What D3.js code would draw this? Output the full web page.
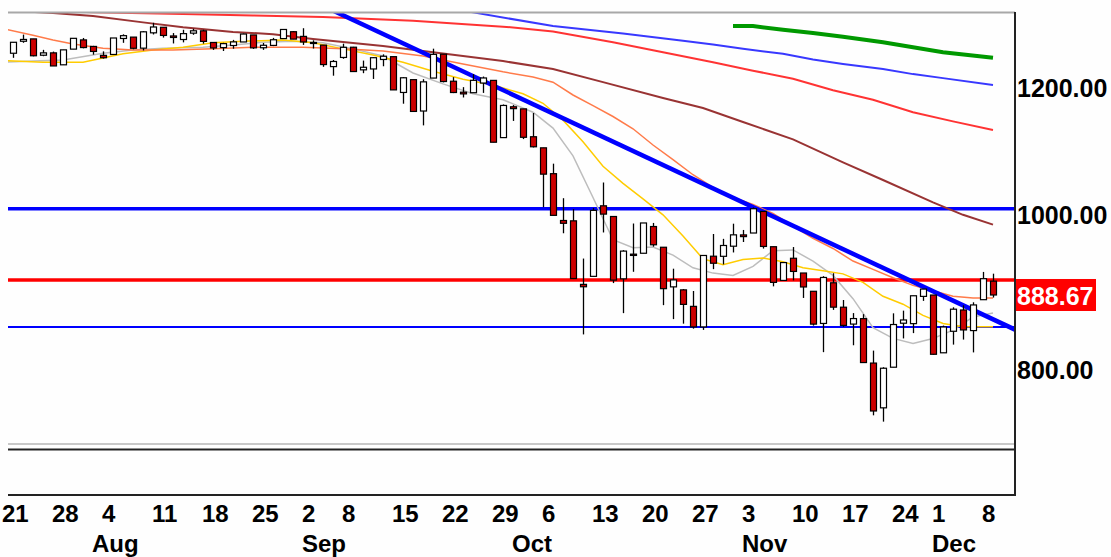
<!DOCTYPE html>
<html><head><meta charset="utf-8">
<script src="https://cdn.jsdelivr.net/npm/d3@7"></script>
<style>
html,body{margin:0;padding:0;background:#fefefe;}
svg{display:block;}
text{font-family:"Liberation Sans",Arial,sans-serif;font-weight:bold;}
</style></head><body>
<svg id="c" width="1111" height="557"></svg>
<script>
// ---- data ----
const dates = ["2008-07-21","2008-07-22","2008-07-23","2008-07-24","2008-07-25","2008-07-28","2008-07-29","2008-07-30","2008-07-31","2008-08-01",
"2008-08-04","2008-08-05","2008-08-06","2008-08-07","2008-08-08","2008-08-11","2008-08-12","2008-08-13","2008-08-14","2008-08-15",
"2008-08-18","2008-08-19","2008-08-20","2008-08-21","2008-08-22","2008-08-25","2008-08-26","2008-08-27","2008-08-28","2008-08-29",
"2008-09-02","2008-09-03","2008-09-04","2008-09-05","2008-09-08","2008-09-09","2008-09-10","2008-09-11","2008-09-12","2008-09-15",
"2008-09-16","2008-09-17","2008-09-18","2008-09-19","2008-09-22","2008-09-23","2008-09-24","2008-09-25","2008-09-26","2008-09-29",
"2008-09-30","2008-10-01","2008-10-02","2008-10-03","2008-10-06","2008-10-07","2008-10-08","2008-10-09","2008-10-10","2008-10-13",
"2008-10-14","2008-10-15","2008-10-16","2008-10-17","2008-10-20","2008-10-21","2008-10-22","2008-10-23","2008-10-24","2008-10-27",
"2008-10-28","2008-10-29","2008-10-30","2008-10-31","2008-11-03","2008-11-04","2008-11-05","2008-11-06","2008-11-07","2008-11-10",
"2008-11-11","2008-11-12","2008-11-13","2008-11-14","2008-11-17","2008-11-18","2008-11-19","2008-11-20","2008-11-21","2008-11-24",
"2008-11-25","2008-11-26","2008-11-28","2008-12-01","2008-12-02","2008-12-03","2008-12-04","2008-12-05","2008-12-08","2008-12-09"];
const opens = [1261.82,1257.08,1278.87,1283.22,1253.51,1257.76,1236.38,1264.52,1281.37,1269.42,
1253.27,1254.87,1283.99,1286.51,1266.29,1294.42,1304.79,1288.64,1282.11,1293.85,
1298.14,1276.65,1267.34,1271.07,1277.59,1290.47,1267.03,1271.29,1283.79,1296.49,
1287.83,1276.61,1271.80,1233.21,1249.50,1267.98,1227.50,1229.04,1245.88,1250.92,
1188.31,1210.34,1157.08,1213.11,1255.37,1207.61,1188.79,1187.87,1204.47,1209.07,
1113.78,1164.17,1160.64,1115.16,1097.56,1057.60,988.91,988.42,902.31,912.75,
1009.97,994.60,909.53,942.29,943.51,980.40,951.67,899.08,895.22,874.28,
848.92,939.51,939.38,953.11,968.67,971.31,1001.84,952.40,907.44,936.75,
917.15,893.39,853.13,904.36,873.23,852.34,859.03,805.98,755.84,801.20,
853.40,852.90,886.89,888.61,817.94,843.60,869.75,844.43,882.71,906.48];
const highs = [1267.74,1277.42,1291.17,1283.22,1263.23,1260.09,1263.20,1284.33,1284.93,1270.52,
1260.49,1284.88,1291.67,1286.51,1297.85,1313.15,1304.79,1294.03,1300.11,1302.05,
1300.22,1276.65,1276.01,1281.40,1293.09,1290.47,1275.65,1285.05,1300.68,1297.59,
1303.04,1280.60,1271.80,1244.94,1274.42,1268.66,1243.90,1249.98,1255.09,1250.92,
1214.84,1210.34,1211.14,1265.33,1255.37,1214.76,1197.41,1220.03,1215.77,1209.07,
1168.03,1167.03,1160.64,1153.82,1097.56,1072.91,1021.06,1005.25,936.36,1006.93,
1044.31,994.60,947.71,984.64,985.40,985.44,951.67,922.83,896.30,893.78,
940.51,969.97,963.23,984.38,975.57,1007.51,1001.84,952.40,931.46,951.95,
917.15,893.39,913.01,916.88,882.29,865.90,864.57,820.52,801.20,865.60,
868.94,887.68,896.25,888.61,850.54,873.12,875.60,879.42,918.57,916.26];
const lows = [1255.70,1248.83,1276.06,1251.48,1251.75,1234.37,1236.38,1264.52,1265.97,1254.54,
1247.45,1254.67,1276.00,1264.29,1262.11,1291.41,1285.64,1274.86,1276.84,1290.74,
1274.51,1263.11,1261.16,1265.22,1277.59,1264.87,1263.21,1270.03,1283.79,1282.74,
1272.20,1265.59,1232.83,1217.23,1247.12,1224.51,1221.60,1211.54,1233.81,1192.70,
1169.28,1155.88,1133.50,1213.11,1205.61,1187.22,1179.79,1187.87,1187.54,1106.42,
1113.78,1140.77,1111.43,1098.14,1007.97,996.23,970.97,909.19,839.80,912.75,
972.07,903.99,865.83,918.74,943.51,952.47,875.81,858.44,852.85,846.75,
845.27,922.26,928.50,944.59,958.82,971.31,949.86,899.73,906.90,907.47,
884.90,850.48,818.69,869.88,848.98,826.84,806.18,747.78,741.02,801.20,
834.99,841.37,881.21,815.69,817.94,827.60,833.60,818.41,882.71,885.38];
const closes = [1260.00,1277.00,1282.19,1252.54,1257.76,1234.37,1263.20,1284.26,1267.38,1260.31,
1249.01,1284.88,1289.19,1266.07,1296.32,1305.32,1289.59,1285.83,1292.93,1298.20,
1278.60,1266.69,1274.54,1277.72,1292.20,1266.84,1271.51,1281.66,1300.68,1282.83,
1277.58,1274.98,1236.83,1242.31,1267.79,1224.51,1232.04,1249.05,1251.70,1192.70,
1213.60,1156.39,1206.51,1255.08,1207.09,1188.22,1185.87,1209.18,1213.27,1106.42,
1166.36,1161.06,1114.28,1099.23,1056.89,996.23,984.94,909.92,899.22,1003.35,
998.01,907.84,946.43,940.55,985.40,955.05,896.78,908.11,876.77,848.92,
940.51,930.09,954.09,968.75,966.30,1005.75,952.77,904.88,930.99,919.21,
898.95,852.30,911.29,873.29,850.75,859.12,806.58,752.44,800.03,851.81,
857.39,887.68,896.24,816.21,848.81,870.74,845.22,876.07,909.70,888.67];

// moving averages (index into dates, value)
const greyIdx = [0,3,6,10,13,16,20,23,26,29,32,35,38,41,44,47,50,53,55,57,59,61,63,65,67,69,71,73,75,77,79,81,83,85,87,89,91,93,95,97,99];
const greyVal = [1241,1243,1245,1257,1263,1266,1268,1272,1277,1279,1276,1265,1252,1222,1203,1186,1176,1155,1129,1085,1022,962,951,952,941,924,917,914,926,947,948,933,914,884,848,835,829,835,845,861,866];
const yellowIdx = [0,4,8,12,15,18,21,24,28,31,34,37,40,43,46,49,52,54,56,58,60,62,64,66,68,70,72,74,76,78,80,82,84,86,88,90,92,94,96,99];
const yellowVal = [1244,1241,1241,1256,1263,1268,1276,1279,1281,1276,1265,1254,1241,1225,1211,1201,1186,1170,1142,1107,1069,1043,1020,997,967,936,928,935,937,932,924,920,916,905,887,877,863,853,849,849];
const orangeIdx = [0,3,5,7,10,13,17,21,25,30,34,38,42,46,50,53,55,57,59,61,63,65,67,69,71,73,75,77,79,81,83,85,87,89,91,93,95,97,99];
const orangeVal = [1302,1290,1281,1274,1266,1263,1263,1265,1268,1268,1265,1261,1252,1238,1224,1215,1206,1184,1166,1148,1128,1102,1079,1056,1037,1022,1012,999,981,964,950,933,922,911,901,894,887,885,885];
const brownIdx = [0,5,9,14,18,23,27,31,38,43,50,55,60,66,70,74,79,84,88,93,96,99];
const brownVal = [1337,1332,1326,1314,1305,1296,1292,1283,1270,1259,1243,1229,1206,1179,1162,1139,1111,1075,1048,1015,997,983];
const redIdx = [0,9,18,25,32,41,50,55,61,66,71,75,79,83,87,91,95,99];
const redVal = [1340,1333,1330,1327,1324,1317,1306,1297,1277,1259,1241,1226,1212,1192,1176,1155,1140,1126];
const blueIdx = [40,47,55,62,68,71,74,78,81,84,88,91,94,99];
const blueVal = [1353,1333,1307,1293,1280,1273,1265,1256,1246,1238,1229,1220,1213,1201];
const greenIdx = [73,75,78,81,84,88,91,94,99];
const greenVal = [1307,1307,1300,1294,1287,1277,1268,1259,1249];

// horizontal levels and trend line anchors
const levelValues = [1005.75, 907.84, 848.92];
const trendIdx = [43, 99];
const trendVal = [1249.7, 858.2];

// axis labels
const yTicks = [800, 1000, 1200];
const lastPrice = 888.67;
const weekDates = ["2008-07-21","2008-07-28","2008-08-04","2008-08-11","2008-08-18","2008-08-25","2008-09-02","2008-09-08","2008-09-15","2008-09-22","2008-09-29","2008-10-06","2008-10-13","2008-10-20","2008-10-27","2008-11-03","2008-11-10","2008-11-17","2008-11-24","2008-12-01","2008-12-08"];
const weekLabels = ["21","28","4","11","18","25","2","8","15","22","29","6","13","20","27","3","10","17","24","1","8"];
const monthDates = ["2008-08-01","2008-09-02","2008-10-01","2008-11-03","2008-12-01"];
const monthLabels = ["Aug","Sep","Oct","Nov","Dec"];

// ---- drawing ----
const svg = d3.select("#c");
const L = 8, R = 1015, T = 12, B = 443;
const x = d3.scaleLinear().domain([0, dates.length - 1]).range([3, 993]);
const y = d3.scaleLog().domain([712.5, 1333.7]).range([449, 12]);
const di = d => dates.indexOf(d);

svg.append("rect").attr("width",1111).attr("height",557).attr("fill","#fefefe");
svg.append("defs").append("clipPath").attr("id","pane")
  .append("rect").attr("x",L).attr("y",T).attr("width",R-L).attr("height",B-T);
const g = svg.append("g").attr("clip-path","url(#pane)");

// levels
const levelStyle = [{c:"#0000ff",w:3.5},{c:"#ff0000",w:3.5},{c:"#0000ff",w:2}];
levelValues.forEach((v,k)=>{
  g.append("line").attr("x1",L).attr("x2",R).attr("y1",y(v)).attr("y2",y(v))
   .attr("stroke",levelStyle[k].c).attr("stroke-width",levelStyle[k].w);
});

// moving averages
const line = d3.line().x(d=>x(d[0])).y(d=>y(d[1]));
const mas = [
  [greyIdx,greyVal,"#bdbdbd",1.5],
  [yellowIdx,yellowVal,"#ffcc00",1.5],
  [orangeIdx,orangeVal,"#ff7b4a",1.5],
  [brownIdx,brownVal,"#993333",2],
  [redIdx,redVal,"#ff3333",2],
  [blueIdx,blueVal,"#3838ff",2],
  [greenIdx,greenVal,"#009900",4]
];
mas.forEach(([ix,vl,c,w])=>{
  g.append("path").datum(ix.map((i,k)=>[i,vl[k]])).attr("d",line)
   .attr("fill","none").attr("stroke",c).attr("stroke-width",w);
});

// trend line (extended across pane)
const tx1 = x(trendIdx[0]), ty1 = y(trendVal[0]), tx2 = x(trendIdx[1]), ty2 = y(trendVal[1]);
const slope = (ty2-ty1)/(tx2-tx1);
g.append("line").attr("x1",300).attr("y1",ty1+slope*(300-tx1))
  .attr("x2",R).attr("y2",ty1+slope*(R-tx1))
  .attr("stroke","#0000ff").attr("stroke-width",4.5);

// candles
const cg = g.append("g");
dates.forEach((d,i)=>{
  const xi = Math.round(x(i));
  cg.append("line").attr("x1",xi+0.5).attr("x2",xi+0.5).attr("y1",y(highs[i])).attr("y2",y(lows[i]))
    .attr("stroke","#000").attr("stroke-width",1.3);
  const top = y(Math.max(opens[i],closes[i])), bot = y(Math.min(opens[i],closes[i]));
  cg.append("rect").attr("x",xi-2.5).attr("y",top).attr("width",6).attr("height",Math.max(bot-top,1))
    .attr("fill", closes[i] < opens[i] ? "#cc0000" : "#ffffff")
    .attr("stroke","#000").attr("stroke-width",1.2);
});

// frame
svg.append("line").attr("x1",L).attr("x2",R).attr("y1",12.5).attr("y2",12.5).attr("stroke","#a8a8a8").attr("stroke-width",2);
svg.append("line").attr("x1",L).attr("x2",R).attr("y1",444).attr("y2",444).attr("stroke","#c8c8c8").attr("stroke-width",2);
svg.append("line").attr("x1",L).attr("x2",R).attr("y1",449.5).attr("y2",449.5).attr("stroke","#222").attr("stroke-width",2);
svg.append("line").attr("x1",L).attr("x2",R+1).attr("y1",495).attr("y2",495).attr("stroke","#222").attr("stroke-width",2);
svg.append("line").attr("x1",R).attr("x2",R).attr("y1",12).attr("y2",496).attr("stroke","#222").attr("stroke-width",2);

// right axis labels
const fmt = d3.format(".2f");
yTicks.forEach(v=>{
  svg.append("text").attr("x",R+2).attr("y",y(v)+2).attr("dy","0.36em")
    .attr("font-size",25).attr("fill","#000").text(fmt(v));
});
const lp = y(lastPrice);
svg.append("rect").attr("x",R+1).attr("y",lp-16).attr("width",80).attr("height",32).attr("fill","#ff0000");
svg.append("text").attr("x",R+2).attr("y",lp+1).attr("dy","0.36em")
  .attr("font-size",25).attr("fill","#fff").text(fmt(lastPrice));

// bottom axis labels
weekDates.forEach((d,k)=>{
  svg.append("text").attr("x",x(di(d))-1).attr("y",522).attr("font-size",24).attr("fill","#000").text(weekLabels[k]);
});
monthDates.forEach((d,k)=>{
  svg.append("text").attr("x",x(di(d))-1).attr("y",552).attr("font-size",24).attr("fill","#000").text(monthLabels[k]);
});
</script>
</body></html>
